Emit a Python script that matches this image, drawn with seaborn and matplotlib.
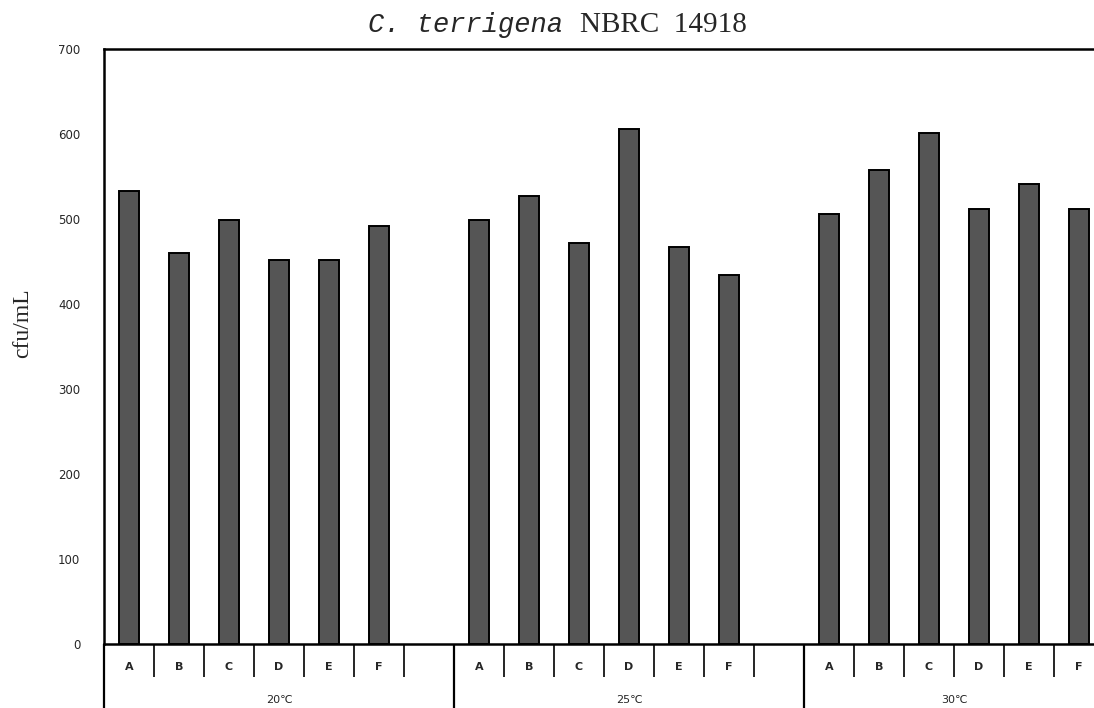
import pandas as pd
import matplotlib.pyplot as plt
import seaborn as sns

# values (cfu/mL)
temps = ['20℃', '25℃', '30℃']
samples = ['A', 'B', 'C', 'D', 'E', 'F']
cfu_20 = [533, 460, 499, 452, 452, 492]
cfu_25 = [499, 527, 472, 606, 467, 434]
cfu_30 = [506, 558, 601, 512, 541, 512]

GROUP_SLOTS = 7  # six samples plus one empty slot per temperature

rows = []
for g, vals in enumerate([cfu_20, cfu_25, cfu_30]):
    for i, v in enumerate(vals):
        rows.append({'slot': g * GROUP_SLOTS + i, 'temp': temps[g], 'sample': samples[i], 'cfu': v})
df = pd.DataFrame(rows)

sns.set_style('white')
plt.rcParams['font.family'] = ['DejaVu Sans', 'Noto Sans CJK JP']

fig = plt.figure(figsize=(10.94, 7.08), dpi=100)
ax = fig.add_axes([104 / 1094, 1 - 644 / 708, 1 - 104 / 1094, 595 / 708])

sns.barplot(data=df, x='slot', y='cfu', native_scale=True, width=0.39,
            color='#555555', saturation=1, edgecolor='black', linewidth=1.4, ax=ax)

ax.set_xlim(-0.5, 19.3)
ax.set_ylim(0, 700)
ax.set_yticks(range(0, 701, 100))
ax.tick_params(axis='y', direction='in', length=3, width=1.5, pad=17, labelsize=8.5)
ax.set_xticks([])
ax.set_xlabel('')
ax.set_ylabel('cfu/mL', family='Liberation Serif', fontsize=17)
ax.yaxis.set_label_coords(-0.072, 0.54)

for side in ['left', 'top', 'bottom']:
    ax.spines[side].set_linewidth(1.8)
    ax.spines[side].set_color('black')
ax.spines['right'].set_visible(False)

# category table below the axis
tr = ax.get_xaxis_transform()
for g in range(3):
    base = g * GROUP_SLOTS
    for i, s in enumerate(samples):
        ax.text(base + i, -0.039, s, transform=tr, ha='center', va='center',
                fontsize=8, fontweight='bold', clip_on=False)
        ax.vlines(base + i + 0.5, -0.056, 0, transform=tr, color='black',
                  linewidth=1.2, clip_on=False)
    ax.vlines(base - 0.5, -0.12, 0, transform=tr, color='black',
              linewidth=1.6, clip_on=False)
    center = base + (len(samples) - 1) / 2 + (0.5 if g < 2 else 0)
    ax.text(center, -0.094, temps[g], transform=tr, ha='center', va='center',
            fontsize=8, clip_on=False)

# title: italic species name + strain number
fig.text(368 / 1094, 1 - 32 / 708, 'C. terrigena', family='Liberation Mono',
         style='italic', fontsize=19.5, ha='left', va='baseline')
fig.text(580 / 1094, 1 - 32 / 708, 'NBRC  14918', family='Liberation Serif',
         fontsize=21, ha='left', va='baseline')

fig.savefig('out.png', dpi=100)
